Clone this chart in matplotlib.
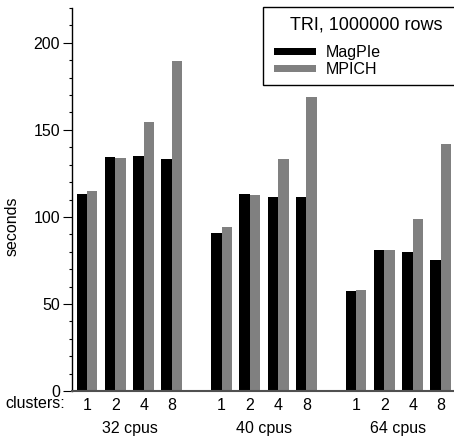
import matplotlib
matplotlib.use("Agg")
import matplotlib.pyplot as plt
from matplotlib.patches import Patch, Rectangle
import numpy as np

plt.rcParams['font.family'] = ['Liberation Sans', 'DejaVu Sans']

groups = ["32 cpus", "40 cpus", "64 cpus"]
clusters = ["1", "2", "4", "8"]
magpie = [[113, 134.5, 135, 133],
          [91, 113, 111.7, 111.5],
          [57.6, 81.2, 79.9, 75.5]]
mpich = [[114.7, 134, 154.6, 189.7],
         [94.3, 112.5, 133, 169],
         [58, 81.2, 98.9, 142]]
series_names = ["MagPIe", "MPICH"]
series_colors = ["#000000", "#808080"]
legend_title = "TRI, 1000000 rows"

W, H = 454, 437
fs = 11.5
fig = plt.figure(figsize=(W / 100, H / 100), dpi=100)
ax = fig.add_axes([72 / W, 1 - 391 / H, 1 - 72 / W, (391 - 8) / H])

group_offset = 4.75
bw = 0.37
positions = []
for g in range(len(groups)):
    for c in range(len(clusters)):
        positions.append(g * group_offset + c)
positions = np.array(positions)
mag_vals = np.array(magpie).ravel()
mpi_vals = np.array(mpich).ravel()

ax.bar(positions - bw / 2, mag_vals, width=bw, color=series_colors[0], linewidth=0)
ax.bar(positions + bw / 2, mpi_vals, width=bw, color=series_colors[1], linewidth=0)

ax.set_xlim(-0.53, 12.96)
ax.set_ylim(0, 220)

ax.set_yticks([0, 50, 100, 150, 200])
ax.set_yticks(np.arange(0, 221, 10), minor=True)
ax.tick_params(axis='y', which='major', length=6.5, width=0.8, labelsize=fs, pad=2)
ax.tick_params(axis='y', which='minor', length=2.4, width=0.8)

ax.set_xticks(positions)
ax.set_xticklabels(clusters * len(groups))
ax.tick_params(axis='x', which='both', length=0, labelsize=fs, pad=5)

for sp in ['top', 'right']:
    ax.spines[sp].set_visible(False)
ax.spines['left'].set_linewidth(1.0)
ax.spines['bottom'].set_color('#505050')
ax.spines['bottom'].set_linewidth(1.5)

ax.set_ylabel("seconds", fontsize=fs)
ax.yaxis.set_label_coords(20 / W, 1 - 226 / H, transform=fig.transFigure)

fig.text(5 / W, 1 - 404 / H, "clusters:", fontsize=fs, ha='left', va='center')
for g, name in enumerate(groups):
    cx = g * group_offset + 1.5
    ax.text(cx, -(428 - 391) / 383, name, transform=ax.get_xaxis_transform(),
            fontsize=fs, ha='center', va='center')

# legend box
fig.patches.append(Rectangle((263 / W, 1 - 85 / H), 210 / W, 78 / H,
                             transform=fig.transFigure, facecolor='white',
                             edgecolor='black', linewidth=1.0, zorder=5))
fig.text(366 / W, 1 - 24.5 / H, legend_title, fontsize=13, ha='center', va='center', zorder=6)
handles = [Patch(facecolor=c, edgecolor='none') for c in series_colors]
leg = fig.legend(handles, series_names, loc='upper left',
                 bbox_to_anchor=(263 / W, 1 - 34 / H), frameon=False,
                 fontsize=fs, handlelength=2.6, handleheight=0.3,
                 handletextpad=0.6, labelspacing=0.1, borderpad=0.2,
                 borderaxespad=0.5)
leg.set_zorder(7)

fig.savefig("out.png", dpi=100)
